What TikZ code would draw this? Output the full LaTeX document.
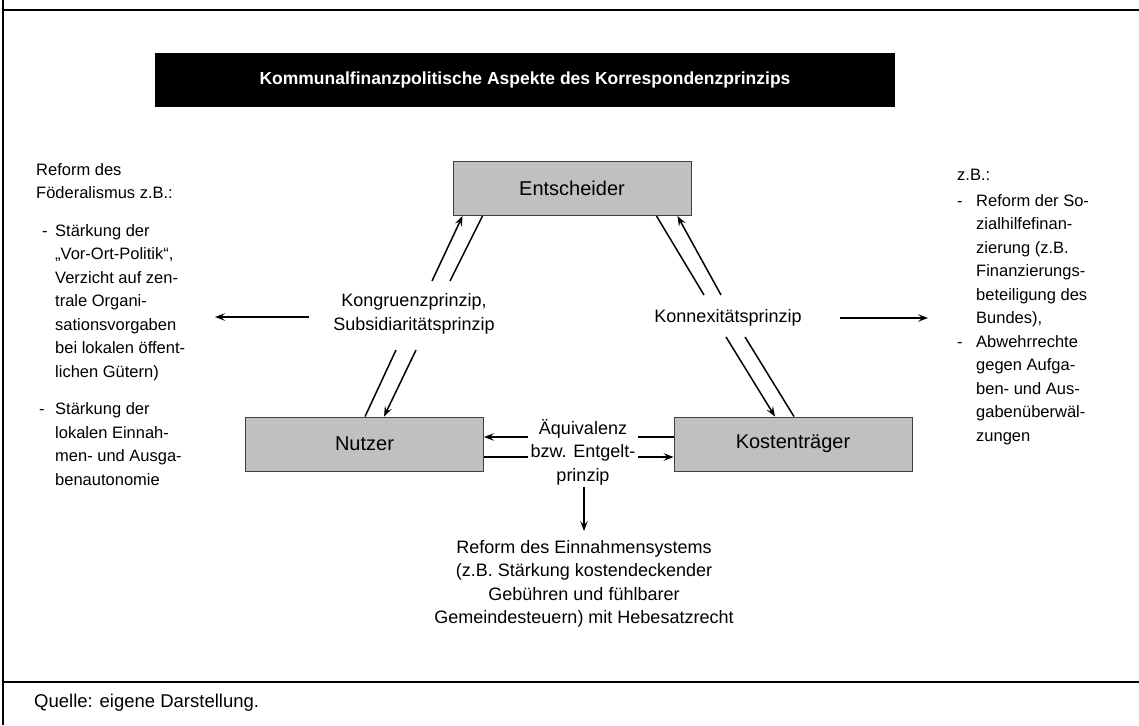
\documentclass[tikz,border=0pt]{standalone}
\usepackage{fontspec}
\setmainfont{Liberation Sans}
\usetikzlibrary{arrows.meta,calc}
\definecolor{boxgray}{HTML}{C0C0C0}
\definecolor{boxline}{HTML}{404040}
\begin{document}
\begin{tikzpicture}[x=1pt,y=-1pt,
  box/.style={draw=boxline, line width=0.9pt, fill=boxgray, minimum width=238pt, minimum height=54pt, inner sep=0pt, font=\fontsize{20}{24}\selectfont},
  sidetext/.style={align=left, inner sep=0pt, font=\fontsize{16.5}{23.5}\selectfont},
  midtext/.style={align=center, inner sep=0pt, font=\fontsize{18}{23.5}\selectfont},
  conn/.style={line width=1.5pt},
  arr/.style={conn, -{Stealth[length=10pt,width=7.5pt,inset=4pt]}},
  frameline/.style={line width=2pt}
]
\useasboundingbox (0,0) rectangle (1139,725);
% frame
\draw[frameline] (3,0) -- (3,725);
\draw[frameline] (3,10) -- (1139,10);
\draw[frameline] (3,682) -- (1139,682);
\node[anchor=west, inner sep=0pt, font=\fontsize{18.5}{22}\selectfont] (quelle) at (34,703) {Quelle: eigene Darstellung.};

% title
\node[fill=black, minimum width=740pt, minimum height=54pt, inner sep=0pt, text=white, font=\bfseries\fontsize{17.5}{20}\selectfont] (title) at (525,80) {Kommunalfinanzpolitische Aspekte des Korrespondenzprinzips};

% boxes
\node[box] (ent) at (572,188.5) {Entscheider};
\node[box] (nut) at (364.5,444) {Nutzer};
\node[box] (kos) at (793,444) {Kostenträger};

% middle labels
\node[midtext] (kong) at (414,314) {Kongruenzprinzip,\\Subsidiaritätsprinzip};
\node[midtext] (konn) at (728,318) {Konnexitätsprinzip};
\node[midtext] (aeq) at (583,452) {Äquivalenz\\bzw. Entgelt-\\prinzip};
\node[midtext] (reform) at (584,584) {Reform des Einnahmensystems\\(z.B. Stärkung kostendeckender\\Gebühren und fühlbarer\\Gemeindesteuern) mit Hebesatzrecht};

% side texts
\node[sidetext, anchor=north west] (lefttext) at (36,163) {Reform des\\
Föderalismus z.B.:\\[14pt]
\makebox[19pt][l]{\hspace{6pt}-}Stärkung der\\
\hspace*{19pt}„Vor-Ort-Politik“,\\
\hspace*{19pt}Verzicht auf zen-\\
\hspace*{19pt}trale Organi-\\
\hspace*{19pt}sationsvorgaben\\
\hspace*{19pt}bei lokalen öffent-\\
\hspace*{19pt}lichen Gütern)\\[14pt]
\makebox[19pt][l]{\hspace{3pt}-}Stärkung der\\
\hspace*{19pt}lokalen Einnah-\\
\hspace*{19pt}men- und Ausga-\\
\hspace*{19pt}benautonomie};

\node[sidetext, anchor=north west] (righttext) at (957,169) {z.B.:\\[2pt]
\makebox[19pt][l]{-}Reform der So-\\
\hspace*{19pt}zialhilfefinan-\\
\hspace*{19pt}zierung (z.B.\\
\hspace*{19pt}Finanzierungs-\\
\hspace*{19pt}beteiligung des\\
\hspace*{19pt}Bundes),\\
\makebox[19pt][l]{-}Abwehrrechte\\
\hspace*{19pt}gegen Aufga-\\
\hspace*{19pt}ben- und Aus-\\
\hspace*{19pt}gabenüberwäl-\\
\hspace*{19pt}zungen};

% connector end points
\coordinate (lu1) at (432,281);
\coordinate (lu2) at (450,281);
\coordinate (ll1) at (396,350);
\coordinate (ll2) at (416,350);
\coordinate (ru1) at (704,295);
\coordinate (ru2) at (721,295);
\coordinate (rl1) at (726,337);
\coordinate (rl2) at (745,337);
\coordinate (la) at (309,317);
\coordinate (latip) at (215,317);
\coordinate (ra) at (840,318);
\coordinate (ratip) at (928,318);
\coordinate (ua1) at (638,437);
\coordinate (ua2) at (528,437);
\coordinate (la1) at (528,457);
\coordinate (la2) at (638,457);
\coordinate (dn) at (584,487);
\coordinate (dntip) at (584,531);

% Entscheider <-> Nutzer
\draw[arr] (lu1) -- ($(ent.south west)+(10,0)$);
\draw[conn] ($(ent.south west)+(30,0)$) -- (lu2);
\draw[conn] (ll1) -- ($(nut.north)+(0.5,0)$);
\draw[arr] (ll2) -- ($(nut.north)+(19.5,0)$);
% Entscheider <-> Kostentraeger
\draw[conn] ($(ent.south east)+(-35,0)$) -- (ru1);
\draw[arr] (ru2) -- ($(ent.south east)+(-14,0)$);
\draw[arr] (rl1) -- ($(kos.north)+(-18,0)$);
\draw[conn] (rl2) -- ($(kos.north)+(1,0)$);
% side arrows
\draw[arr] (la) -- (latip);
\draw[arr] (ra) -- (ratip);
% Nutzer <-> Kostentraeger
\draw[conn, line width=1.8pt] (kos.west |- ua1) -- (ua1);
\draw[arr, line width=1.8pt] (ua2) -- (nut.east |- ua2);
\draw[conn, line width=2.6pt] (nut.east |- la1) -- (la1);
\draw[arr, line width=2.6pt] (la2) -- (kos.west |- la2);
% down arrow
\draw[arr, line width=1.8pt] (dn) -- (dntip);
\end{tikzpicture}
\end{document}
